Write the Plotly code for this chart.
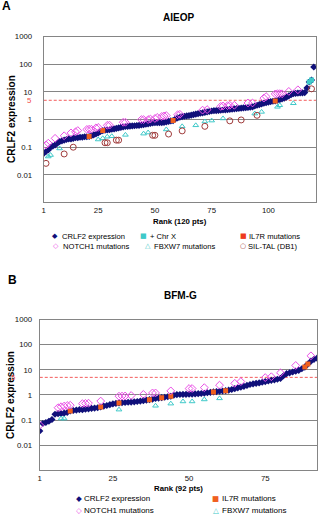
import math
import plotly.graph_objects as go

# ---------------- data ----------------
# Panel A: AIEOP (120 patients), CRLF2 expression sorted by rank
AIEOP_CRLF2 = [
    0.06, 0.07, 0.08, 0.10, 0.11, 0.12, 0.14, 0.16, 0.17, 0.18,
    0.19, 0.20, 0.20, 0.21, 0.22, 0.22, 0.23, 0.23, 0.24, 0.24,
    0.245, 0.26, 0.28, 0.30, 0.33, 0.37, 0.40, 0.41, 0.42, 0.43,
    0.45, 0.46, 0.48, 0.50, 0.52, 0.54, 0.56, 0.57, 0.58, 0.59,
    0.60, 0.61, 0.62, 0.64, 0.66, 0.68, 0.70, 0.73, 0.76, 0.77,
    0.77, 0.78, 0.78, 0.79, 0.82, 0.86, 0.90, 0.92, 1.05, 1.15,
    1.22, 1.28, 1.32, 1.36, 1.40, 1.45, 1.52, 1.58, 1.64, 1.70,
    1.76, 1.82, 1.90, 1.98, 2.05, 2.10, 2.12, 2.15, 2.18, 2.22,
    2.26, 2.30, 2.35, 2.40, 2.45, 2.50, 2.55, 2.60, 2.65, 2.70,
    2.75, 2.80, 2.90, 3.1, 3.3, 3.5, 3.7, 3.9, 4.1, 4.3,
    4.5, 4.6, 4.7, 5.0, 5.3, 5.6, 6.0, 6.5, 7.2, 8.0,
    8.6, 8.9, 9.1, 9.2, 9.3, 9.5, 14, 23, 27, 80,
]
AIEOP_IL7R_RANKS = [21, 27, 58, 103]
AIEOP_CHRX_RANKS = [118, 119]
AIEOP_NOTCH1_RANKS = [2, 3, 6, 10, 13, 15, 16, 20, 21, 22,
                      24, 25, 29, 30, 36, 37, 44, 45, 47, 48,
                      50, 51, 53, 54, 55, 60, 61, 71, 73, 79,
                      80, 82, 83, 85, 91, 93, 98, 99, 103, 104,
                      105, 106, 109, 113]
AIEOP_NOTCH1_VALUES = [0.12, 0.14, 0.21, 0.26, 0.33, 0.36, 0.40, 0.44, 0.45, 0.45,
                       0.50, 0.52, 0.62, 0.63, 0.80, 0.80, 1.0, 1.0, 1.0, 1.05,
                       1.1, 1.2, 1.3, 1.35, 1.4, 1.5, 1.55, 2.2, 2.3, 3.0,
                       3.1, 3.2, 3.3, 3.3, 4.0, 4.0, 6.0, 6.8, 8.5, 8.7,
                       8.7, 8.6, 10.5, 12]
AIEOP_FBXW7_RANKS = [3, 4, 8, 25, 27, 29, 31, 37, 45, 47, 55, 62, 68, 72, 75, 80, 94, 97, 104, 105, 111]
AIEOP_FBXW7_VALUES = [0.046, 0.052, 0.09, 0.19, 0.21, 0.24, 0.25, 0.28, 0.31, 0.34, 0.44,
                      0.57, 0.62, 0.85, 0.92, 1.1, 1.65, 1.9, 2.9, 3.3, 3.9]
AIEOP_SILTAL_RANKS = [2, 10, 14, 28, 29, 33, 34, 49, 50, 56, 62, 72, 83, 88, 95, 119]
AIEOP_SILTAL_VALUES = [0.026, 0.057, 0.10, 0.145, 0.145, 0.18, 0.18, 0.27, 0.27, 0.30,
                       0.39, 0.57, 0.90, 0.97, 1.43, 13]

# Panel B: BFM-G (92 patients)
BFM_CRLF2 = [
    0.037, 0.073, 0.08, 0.09, 0.105, 0.17, 0.18, 0.18, 0.19, 0.20,
    0.23, 0.24, 0.25, 0.26, 0.26, 0.27, 0.28, 0.29, 0.30, 0.31,
    0.33, 0.36, 0.38, 0.41, 0.44, 0.46, 0.48, 0.49, 0.50, 0.51,
    0.52, 0.53, 0.55, 0.57, 0.59, 0.62, 0.65, 0.68, 0.72, 0.75,
    0.78, 0.81, 0.85, 0.89, 0.97, 1.03, 1.04, 1.05, 1.06, 1.07,
    1.08, 1.10, 1.12, 1.14, 1.17, 1.22, 1.27, 1.32, 1.36, 1.40,
    1.44, 1.48, 1.55, 1.65, 1.78, 1.92, 2.05, 2.2, 2.4, 2.6,
    2.75, 2.9, 3.0, 3.2, 3.4, 3.6, 3.8, 4.0, 4.2, 4.5,
    5.8, 7.0, 7.6, 8.2, 8.8, 9.5, 11, 12.8, 17, 22,
    26, 29,
]
BFM_IL7R_RANKS = [11, 21, 27, 37, 41, 44, 58, 62, 88, 89]
BFM_NOTCH1_RANKS = [1, 7, 8, 9, 10, 11, 15, 16, 17, 21,
                    27, 28, 29, 31, 35, 38, 39, 44, 50, 51,
                    55, 60, 65, 67, 75, 77, 80, 85, 90]
BFM_NOTCH1_VALUES = [0.063, 0.31, 0.34, 0.36, 0.38, 0.39, 0.45, 0.46, 0.47, 0.57,
                     0.89, 0.90, 0.91, 0.95, 1.05, 1.2, 1.2, 1.45, 1.8, 1.8,
                     1.95, 2.45, 2.9, 3.4, 4.9, 5.3, 7.6, 14.9, 36]
BFM_FBXW7_RANKS = [8, 9, 27, 39, 44, 48, 51, 55, 60]
BFM_FBXW7_VALUES = [0.115, 0.115, 0.26, 0.37, 0.45, 0.55, 0.55, 0.66, 0.73]

THRESHOLD = 5
Y_TICKS = [0.01, 0.1, 1, 10, 100, 1000]
Y_TICKTEXT = ["0.01", "0.1", "1", "10", "100", "1000"]
A_X_TICKS = [1, 25, 50, 75, 100]
B_X_TICKS = [1, 25, 50, 75]

# ---------------- style ----------------
W, H = 323, 514
FONT = "Liberation Sans, Arial, sans-serif"
SYMFONT = "DejaVu Sans, sans-serif"
NAVY = "#10107a"
CYAN = "#3fc9c9"
ORANGE = "#f0601e"
PINK = "#ea4fe6"
BROWN = "#a03c3c"
GRID = "#858585"
RED = "#f24a4a"


def fx(p):
    return p / W


def fy(p):
    return 1 - p / H


fig = go.Figure()


def add_panel(xa, ya, crlf2, il7r_ranks, notch_r, notch_v, fbx_r, fbx_v,
              chrx_ranks=None, sil_r=None, sil_v=None, xmax=None):
    ranks = list(range(1, len(crlf2) + 1))
    fig.add_trace(go.Scatter(x=[1, xmax], y=[THRESHOLD, THRESHOLD], mode="lines",
                             line=dict(color=RED, width=0.9, dash="3px,2px"),
                             xaxis=xa, yaxis=ya, hoverinfo="skip"))
    fig.add_trace(go.Scatter(x=ranks, y=crlf2, mode="markers", name="CRLF2 expression",
                             marker=dict(symbol="diamond", size=5.5, color=NAVY),
                             xaxis=xa, yaxis=ya))
    if chrx_ranks:
        fig.add_trace(go.Scatter(x=chrx_ranks, y=[crlf2[r - 1] for r in chrx_ranks],
                                 mode="markers", name="+ Chr X",
                                 marker=dict(symbol="square", size=5, color=CYAN),
                                 xaxis=xa, yaxis=ya))
    fig.add_trace(go.Scatter(x=il7r_ranks, y=[crlf2[r - 1] for r in il7r_ranks],
                             mode="markers", name="IL7R mutations",
                             marker=dict(symbol="square", size=5, color=ORANGE),
                             xaxis=xa, yaxis=ya))
    fig.add_trace(go.Scatter(x=notch_r, y=notch_v, mode="markers", name="NOTCH1 mutations",
                             marker=dict(symbol="diamond-open", size=6, color=PINK,
                                         line=dict(width=1, color=PINK)),
                             xaxis=xa, yaxis=ya))
    fig.add_trace(go.Scatter(x=fbx_r, y=fbx_v, mode="markers", name="FBXW7 mutations",
                             marker=dict(symbol="triangle-up-open", size=5, color=CYAN,
                                         line=dict(width=1, color=CYAN)),
                             xaxis=xa, yaxis=ya))
    if sil_r:
        fig.add_trace(go.Scatter(x=sil_r, y=sil_v, mode="markers", name="SIL-TAL (DB1)",
                                 marker=dict(symbol="circle-open", size=6, color=BROWN,
                                             line=dict(width=1, color=BROWN)),
                                 xaxis=xa, yaxis=ya))


A_XMAX = 121
B_XMAX = 92
add_panel("x", "y", AIEOP_CRLF2, AIEOP_IL7R_RANKS, AIEOP_NOTCH1_RANKS, AIEOP_NOTCH1_VALUES,
          AIEOP_FBXW7_RANKS, AIEOP_FBXW7_VALUES, AIEOP_CHRX_RANKS,
          AIEOP_SILTAL_RANKS, AIEOP_SILTAL_VALUES, xmax=A_XMAX)
add_panel("x2", "y2", BFM_CRLF2, BFM_IL7R_RANKS, BFM_NOTCH1_RANKS, BFM_NOTCH1_VALUES,
          BFM_FBXW7_RANKS, BFM_FBXW7_VALUES, xmax=B_XMAX)

tickfont = dict(family=FONT, size=7.8, color="#111")


def xaxis_cfg(domain, rng, ticks, anchor):
    return dict(domain=domain, range=rng, tickvals=ticks, anchor=anchor,
                showgrid=False, zeroline=False, showline=True, mirror=True,
                linecolor=GRID, linewidth=1, ticks="", tickfont=tickfont,
                ticklabelstandoff=0, fixedrange=True)


def yaxis_cfg(domain, anchor, standoff):
    return dict(domain=domain, type="log", range=[-3, 3], tickvals=Y_TICKS,
                ticktext=Y_TICKTEXT, anchor=anchor, showgrid=True, gridcolor=GRID,
                gridwidth=1, zeroline=False, showline=True, mirror=True,
                linecolor=GRID, linewidth=1, ticks="", tickfont=tickfont,
                ticklabelstandoff=standoff, fixedrange=True)


annotations = []


def ann(text, x, y, size, bold=False, color="#000", xanchor="center", angle=0, font=FONT):
    annotations.append(dict(text=("<b>%s</b>" % text) if bold else text,
                            x=fx(x), y=fy(y), xref="paper", yref="paper",
                            xanchor=xanchor, yanchor="middle", showarrow=False,
                            textangle=angle,
                            font=dict(family=font, size=size, color=color)))


# Panel A texts
ann("A", 5, 2, 12, bold=True)
ann("AIEOP", 178, 14, 10, bold=True)
ann("CRLF2 expression", 9, 116, 10, bold=True, angle=-90)
ann("Rank (120 pts)", 179, 219, 7.8, bold=True)
annotations.append(dict(text="5", x=fx(32), xref="paper", y=math.log10(THRESHOLD), yref="y",
                        xanchor="right", yanchor="middle", showarrow=False,
                        font=dict(family=FONT, size=7.8, color=RED)))
# Panel B texts
ann("B", 11, 278, 12, bold=True)
ann("BFM-G", 180, 294, 10, bold=True)
ann("CRLF2 expression", 9, 394, 10, bold=True, angle=-90)
ann("Rank (92 pts)", 178, 488, 7.8, bold=True)
annotations.append(dict(text="5", x=fx(12), xref="paper", y=math.log10(THRESHOLD), yref="y2",
                        xanchor="center", yanchor="middle", showarrow=False,
                        font=dict(family=FONT, size=7.8, color=RED)))

# Legends (key glyph + label)
LEGEND_A = [
    ("◆", NAVY, 53, 234, "CRLF2 expression", 58),
    ("■", CYAN, 142, 234, "+ Chr X", 147),
    ("■", "#ee3a1e", 243, 234, "IL7R mutations", 247),
    ("◇", PINK, 54, 244, "NOTCH1 mutations", 59),
    ("△", CYAN, 147, 244, "FBXW7 mutations", 151),
    ("○", BROWN, 242, 244, "SIL-TAL (DB1)", 246),
]
LEGEND_B = [
    ("◆", NAVY, 77, 498, "CRLF2 expression", 81),
    ("■", ORANGE, 215, 498, "IL7R mutations", 219),
    ("◇", PINK, 77, 510, "NOTCH1 mutations", 81),
    ("△", CYAN, 215, 510, "FBXW7 mutations", 219),
]
for glyph, col, gx, gy, label, tx in LEGEND_A:
    ann(glyph, gx, gy, 7, color=col, font=SYMFONT)
    ann(label, tx, gy, 7.6, xanchor="left")
for glyph, col, gx, gy, label, tx in LEGEND_B:
    ann(glyph, gx, gy, 7.5, color=col, font=SYMFONT)
    ann(label, tx, gy, 8, xanchor="left")

fig.update_layout(
    width=W, height=H, margin=dict(l=0, r=0, t=0, b=0),
    paper_bgcolor="white", plot_bgcolor="white", showlegend=False,
    font=dict(family=FONT),
    xaxis=xaxis_cfg([fx(42), fx(316)], [1, A_XMAX], A_X_TICKS, "y"),
    yaxis=yaxis_cfg([fy(200), fy(33)], "x", 9),
    xaxis2=xaxis_cfg([fx(38), fx(317)], [1, B_XMAX], B_X_TICKS, "y2"),
    yaxis2=yaxis_cfg([fy(470), fy(318)], "x2", 5),
    annotations=annotations,
)

fig.write_html("out.html")
